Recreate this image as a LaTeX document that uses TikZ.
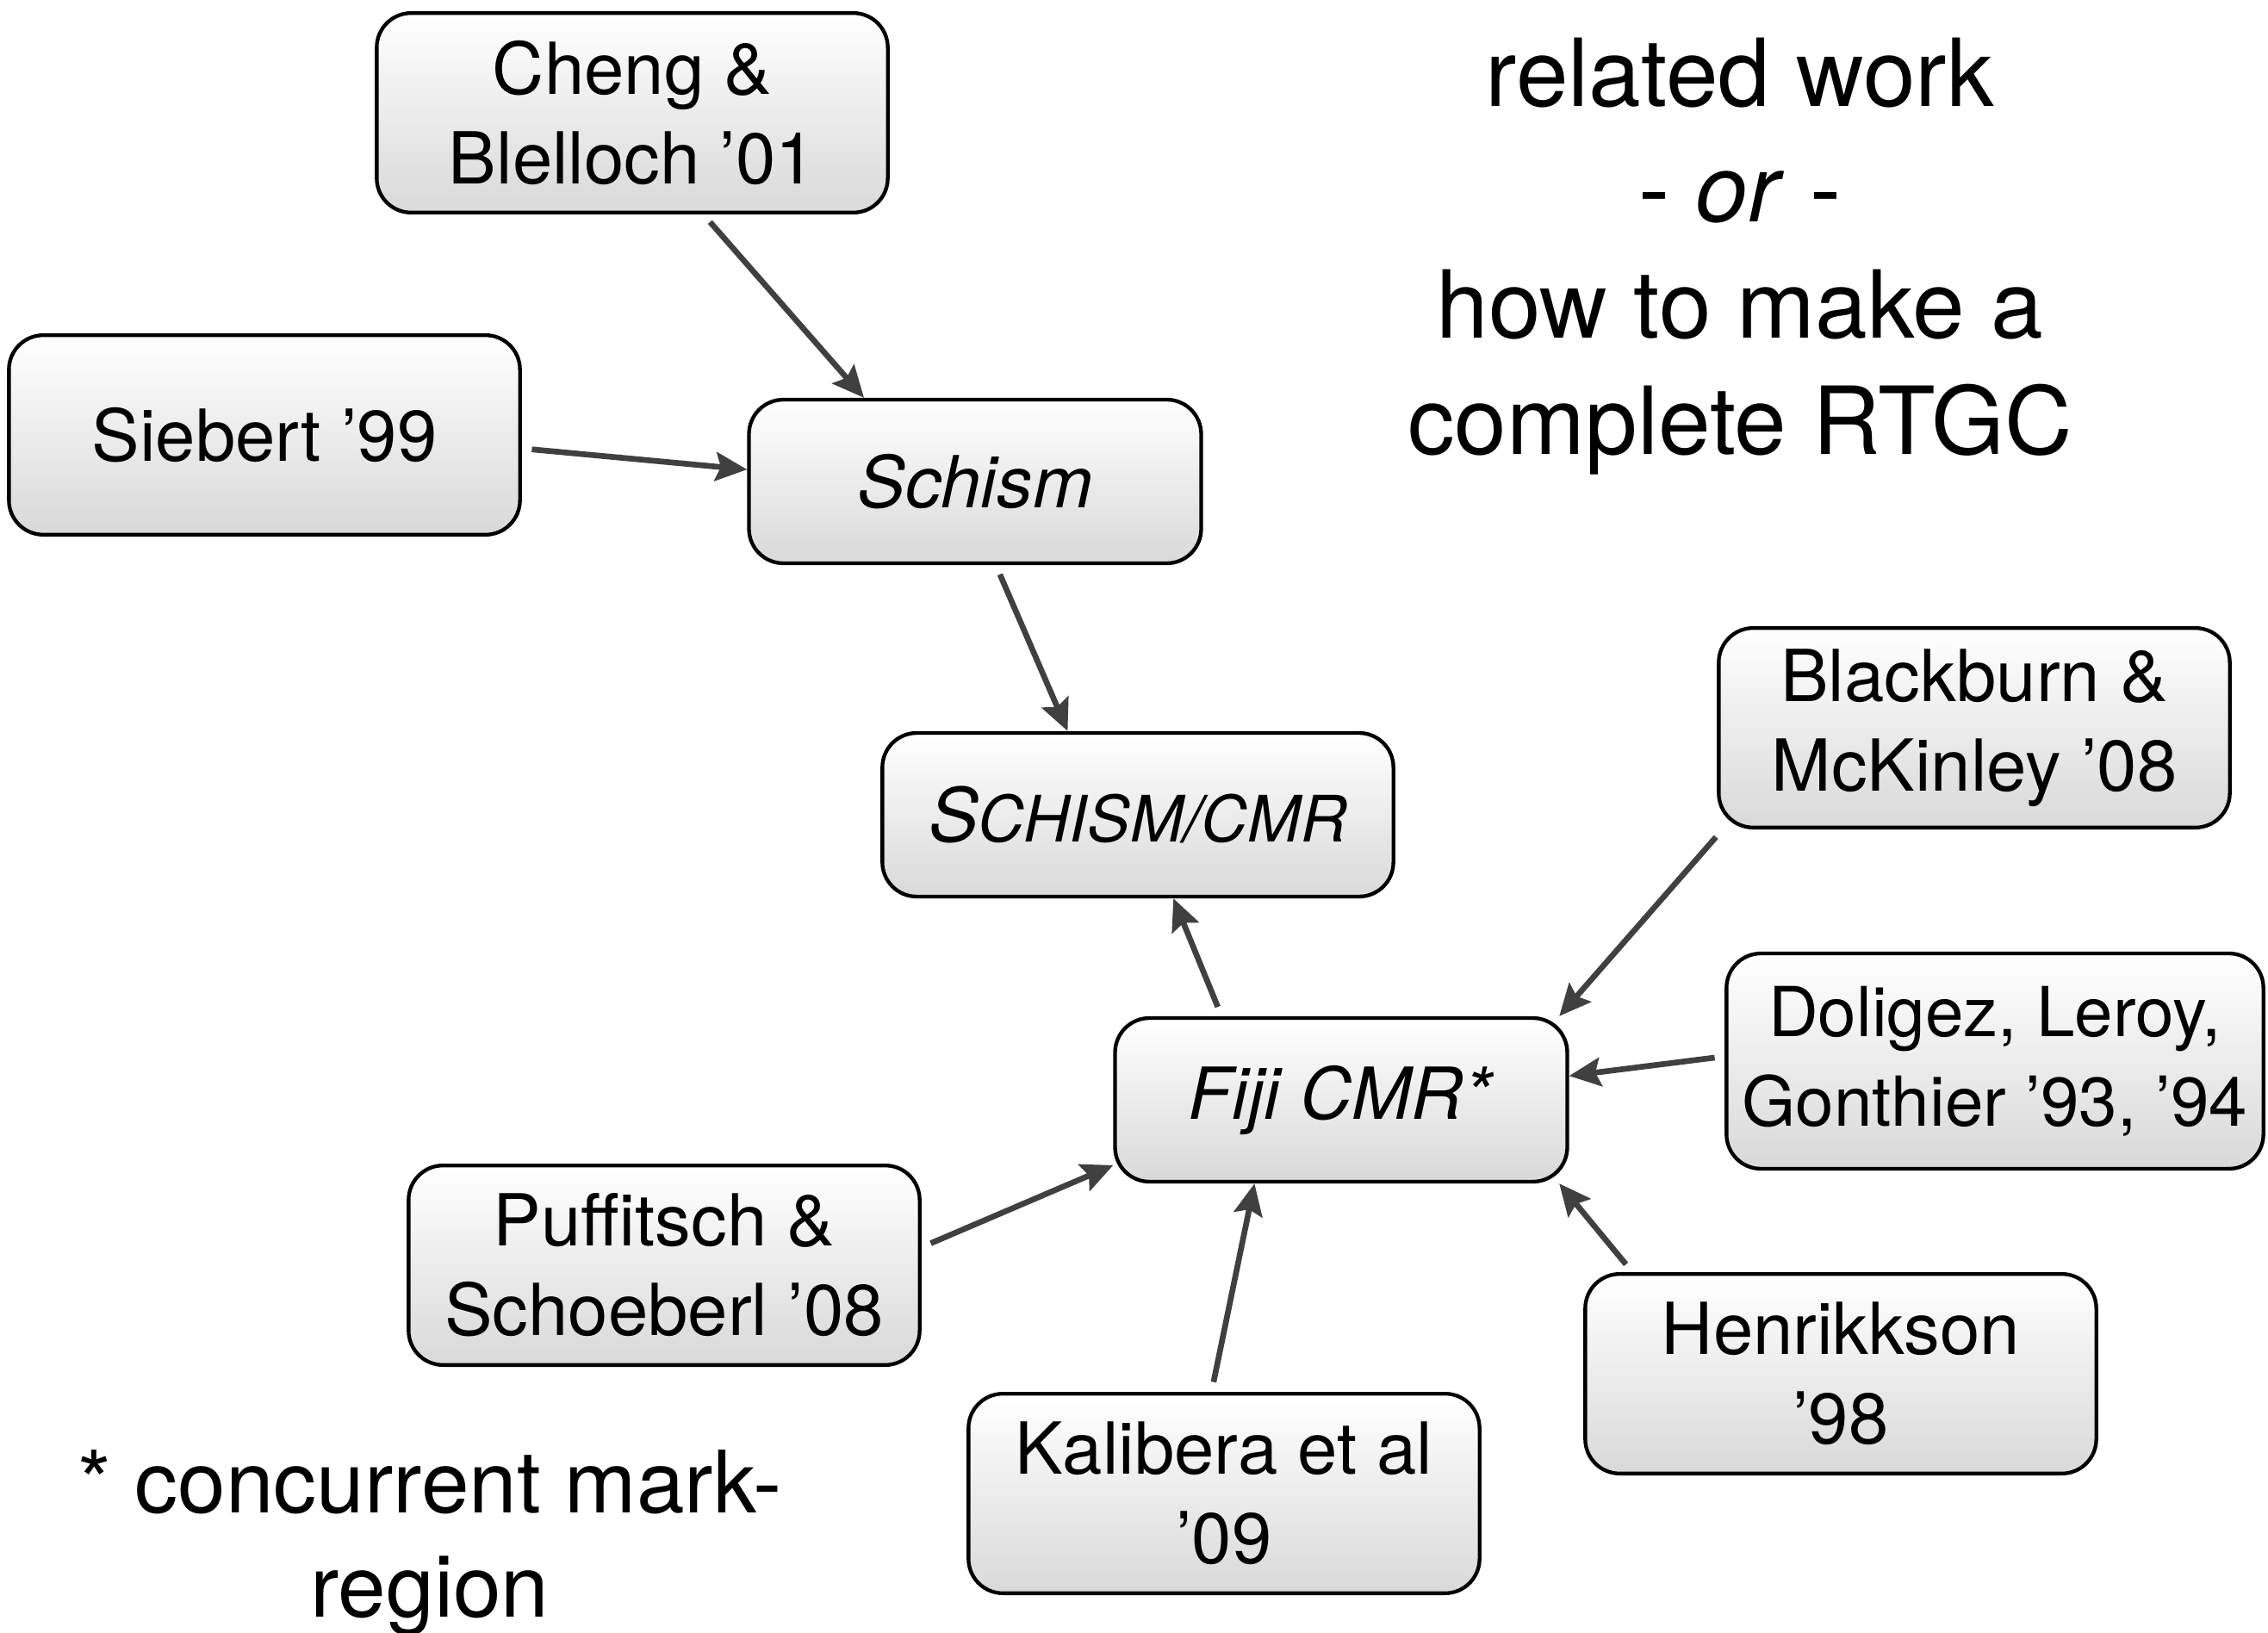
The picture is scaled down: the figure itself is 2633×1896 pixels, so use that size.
\documentclass[tikz,border=0pt]{standalone}
\usepackage{fontspec}
\setmainfont{TeX Gyre Heros}
\usetikzlibrary{arrows.meta}

\definecolor{arrowgray}{HTML}{404040}
\newcommand\boxfont{\fontsize{25}{31.2}\selectfont}
\newcommand\smallboxfont{\fontsize{24}{31.2}\selectfont}
\newcommand\titlefont{\fontsize{32.7}{40.4}\selectfont}
\newcommand\notefont{\fontsize{30}{36.3}\selectfont}

\begin{document}
\begin{tikzpicture}[x=0.3pt,y=-0.3pt,
  paper/.style={draw=black, line width=1.3pt, rounded corners=12pt,
    top color=white, bottom color=black!15, align=center, inner sep=0pt,
    minimum width=178pt, minimum height=69.5pt, font=\boxfont},
  core/.style={paper, minimum width=157.5pt, minimum height=57pt},
  arr/.style={draw=arrowgray, line width=2pt, shorten <=3.5pt,
    -{Stealth[length=11pt,width=10pt,inset=1.8pt]}}]

\useasboundingbox (0,0) rectangle (2633,1896);

% headline and footnote
\node[anchor=north, inner sep=0pt, align=center, font=\titlefont] (title) at (2020,43)
  {related work\\- \textit{or} -\\how to make a\\complete RTGC};
\node[anchor=north, inner sep=0pt, align=center, font=\notefont] (note) at (499,1683)
  {* concurrent mark-\\region};

% central chain
\node[core] (schism) at (1132,559) {\textit{Schism}};
\node[core, minimum width=178pt] (schcmr) at (1321,946)
  {\itshape\fontsize{26}{30}\selectfont S\fontsize{22.3}{26}\selectfont CHISM/CMR};
\node[core] (fiji) at (1557,1277) {\textit{Fiji CMR*}};

% surrounding references
\node[paper] (cheng) at (734,131) {Cheng \&\\Blelloch ’01};
\node[paper] (siebert) at (307,505) {Siebert ’99};
\node[paper] (blackburn) at (2292,845) {Blackburn \&\\McKinley ’08};
\node[paper, minimum width=187pt, minimum height=75pt, font=\smallboxfont] (doligez) at (2316,1232)
  {Doligez, Leroy,\\Gonthier ’93, ’94};
\node[paper] (henrikkson) at (2137,1595) {Henrikkson\\’98};
\node[paper] (kalibera) at (1421,1734) {Kalibera et al\\’09};
\node[paper] (puffitsch) at (771,1469) {Puffitsch \&\\Schoeberl ’08};

% influences
\draw[arr] (cheng.-55) -- (schism.143);
\draw[arr] (siebert.-3) -- (schism.177);
\draw[arr] (schism.-76) -- (schcmr.130);
\draw[arr] (fiji.145) -- (schcmr.-67);
\draw[arr] (blackburn.202) -- (fiji.21);
\draw[arr] (doligez.179) -- (fiji.6.5);
\draw[arr] (henrikkson.154) -- (fiji.-21);
\draw[arr] (kalibera.97) -- (fiji.224.5);
\draw[arr] (puffitsch.4.7) -- (fiji.196);
\end{tikzpicture}
\end{document}
